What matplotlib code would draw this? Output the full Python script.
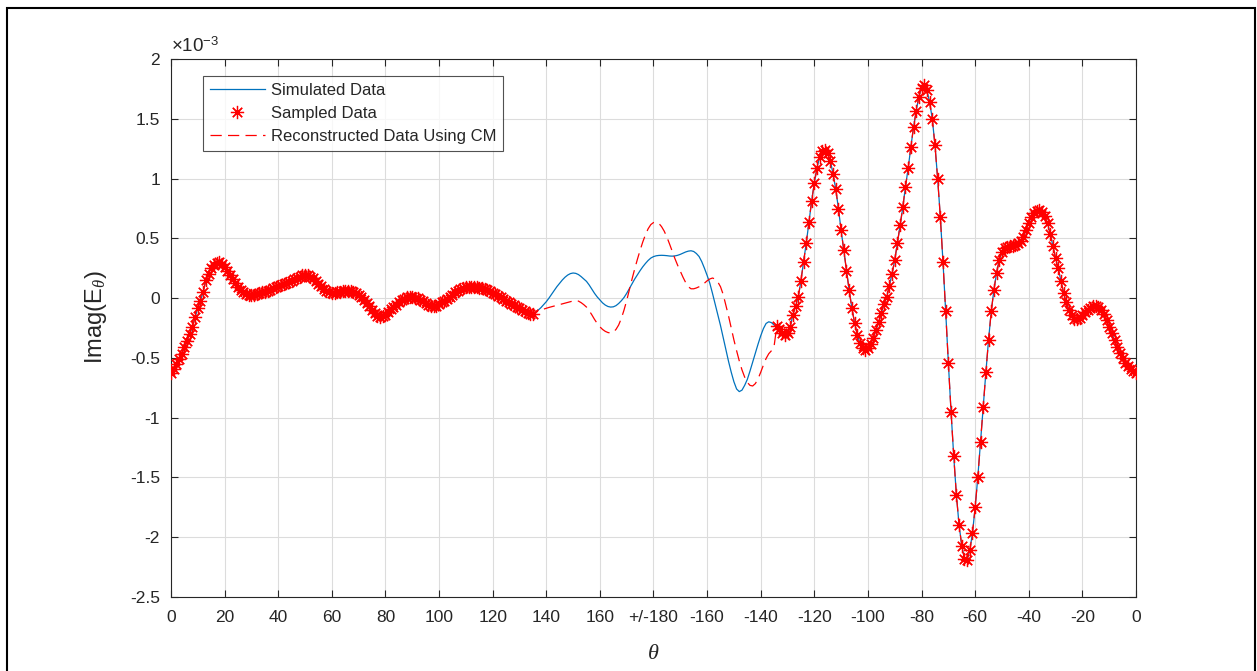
import numpy as np
import matplotlib
matplotlib.use("Agg")
import matplotlib.pyplot as plt
from matplotlib.patches import Rectangle

plt.rcParams['font.family'] = ['Liberation Sans', 'DejaVu Sans']
plt.rcParams['mathtext.fontset'] = 'custom'
plt.rcParams['mathtext.rm'] = 'Liberation Sans'
plt.rcParams['mathtext.it'] = 'Liberation Serif:italic'

# Imag(E_theta) in units of 1e-3, one value per degree.
# Sampled arc 1: theta = 0 .. 135 deg
imag_left = [
    -0.630, -0.590, -0.550, -0.510, -0.470, -0.410, -0.355, -0.300, -0.240, -0.160,
    -0.085, -0.020, 0.050, 0.150, 0.205, 0.255, 0.280, 0.295, 0.298, 0.285,
    0.262, 0.230, 0.195, 0.160, 0.125, 0.095, 0.070, 0.050, 0.035, 0.028,
    0.025, 0.028, 0.035, 0.040, 0.048, 0.055, 0.063, 0.072, 0.082, 0.090,
    0.098, 0.106, 0.115, 0.125, 0.135, 0.145, 0.157, 0.168, 0.180, 0.190,
    0.195, 0.190, 0.178, 0.165, 0.145, 0.120, 0.098, 0.078, 0.060, 0.048,
    0.042, 0.043, 0.048, 0.053, 0.056, 0.058, 0.060, 0.062, 0.055, 0.042,
    0.030, 0.010, -0.015, -0.045, -0.070, -0.100, -0.128, -0.148, -0.155, -0.152,
    -0.140, -0.120, -0.095, -0.075, -0.055, -0.035, -0.018, -0.005, 0.008, 0.013,
    0.012, 0.005, -0.003, -0.012, -0.025, -0.040, -0.055, -0.066, -0.070, -0.065,
    -0.052, -0.036, -0.020, -0.005, 0.012, 0.030, 0.048, 0.062, 0.073, 0.082,
    0.090, 0.095, 0.097, 0.096, 0.092, 0.087, 0.081, 0.075, 0.068, 0.058,
    0.045, 0.032, 0.020, 0.007, -0.007, -0.020, -0.033, -0.046, -0.060, -0.072,
    -0.085, -0.098, -0.110, -0.122, -0.132, -0.135,
]

# Unsampled arc: theta = 136 .. 225 deg (simulated field)
sim_gap = [
    -0.118, -0.100, -0.080, -0.055,
    -0.030, 0.000, 0.033, 0.065, 0.097, 0.125, 0.152, 0.175, 0.193, 0.205,
    0.210, 0.207, 0.197, 0.180, 0.160, 0.140, 0.110, 0.075, 0.040, 0.010,
    -0.015, -0.040, -0.058, -0.070, -0.075, -0.073, -0.063, -0.045, -0.022, 0.005,
    0.040, 0.080, 0.120, 0.160, 0.195, 0.230, 0.262, 0.290, 0.315, 0.335,
    0.347, 0.354, 0.357, 0.358, 0.357, 0.355, 0.352, 0.351, 0.353, 0.358,
    0.366, 0.376, 0.386, 0.393, 0.396, 0.390, 0.373, 0.348, 0.305, 0.250,
    0.190, 0.125, 0.040, -0.050, -0.140, -0.230, -0.330, -0.430, -0.530, -0.620,
    -0.700, -0.760, -0.782, -0.770, -0.730, -0.680, -0.610, -0.535, -0.460, -0.385,
    -0.315, -0.255, -0.212, -0.198, -0.205, -0.225,
]

# Unsampled arc: theta = 136 .. 225 deg (CM reconstruction)
rec_gap = [
    -0.120, -0.110, -0.100, -0.092,
    -0.085, -0.078, -0.072, -0.066, -0.060, -0.054, -0.048, -0.042, -0.036, -0.030,
    -0.024, -0.021, -0.025, -0.038, -0.055, -0.075, -0.105, -0.140, -0.178, -0.212,
    -0.240, -0.262, -0.278, -0.288, -0.292, -0.285, -0.262, -0.225, -0.170, -0.100,
    -0.020, 0.070, 0.160, 0.245, 0.325, 0.400, 0.470, 0.530, 0.580, 0.615,
    0.632, 0.636, 0.625, 0.598, 0.560, 0.510, 0.452, 0.390, 0.330, 0.275,
    0.225, 0.175, 0.130, 0.095, 0.078, 0.078, 0.085, 0.095, 0.108, 0.125,
    0.145, 0.160, 0.168, 0.160, 0.135, 0.095, 0.030, -0.060, -0.150, -0.250,
    -0.350, -0.440, -0.525, -0.600, -0.660, -0.705, -0.730, -0.735, -0.715, -0.675,
    -0.620, -0.560, -0.505, -0.465, -0.440, -0.400,
]

# Sampled arc 2: theta = 226 .. 360 deg
imag_right = [
    -0.235, -0.262, -0.290, -0.305,
    -0.295, -0.240, -0.140, -0.065, 0.008, 0.146, 0.304, 0.464, 0.635, 0.815,
    0.961, 1.091, 1.180, 1.228, 1.238, 1.210, 1.146, 1.036, 0.912, 0.746,
    0.566, 0.400, 0.229, 0.064, -0.083, -0.205, -0.305, -0.375, -0.415, -0.432,
    -0.420, -0.385, -0.330, -0.270, -0.200, -0.125, -0.050, 0.010, 0.105, 0.205,
    0.318, 0.461, 0.608, 0.760, 0.931, 1.086, 1.262, 1.428, 1.566, 1.685,
    1.760, 1.785, 1.740, 1.640, 1.500, 1.280, 1.000, 0.680, 0.300, -0.111,
    -0.542, -0.950, -1.320, -1.647, -1.900, -2.070, -2.180, -2.194, -2.110, -1.964,
    -1.750, -1.494, -1.203, -0.908, -0.619, -0.347, -0.111, 0.069, 0.214, 0.319,
    0.385, 0.415, 0.428, 0.435, 0.440, 0.448, 0.460, 0.480, 0.515, 0.570,
    0.630, 0.680, 0.712, 0.728, 0.733, 0.718, 0.685, 0.625, 0.540, 0.435,
    0.335, 0.250, 0.140, 0.045, -0.035, -0.100, -0.145, -0.172, -0.178, -0.163,
    -0.140, -0.115, -0.097, -0.080, -0.068, -0.065, -0.075, -0.097, -0.135, -0.185,
    -0.240, -0.295, -0.350, -0.410, -0.460, -0.505, -0.540, -0.565, -0.590, -0.612,
    -0.630,
]

theta_left = np.arange(0, 136)
theta_gap = np.arange(136, 226)
theta_right = np.arange(226, 361)

x_ticks = np.arange(0, 361, 20)
x_tick_labels = ['0', '20', '40', '60', '80', '100', '120', '140', '160', '+/-180',
                 '-160', '-140', '-120', '-100', '-80', '-60', '-40', '-20', '0']
y_ticks = np.arange(-2.5, 2.01, 0.5)
y_tick_labels = ['-2.5', '-2', '-1.5', '-1', '-0.5', '0', '0.5', '1', '1.5', '2']

theta_all = np.concatenate([theta_left, theta_gap, theta_right])
simulated = np.concatenate([imag_left, sim_gap, imag_right])
reconstructed = np.concatenate([imag_left, rec_gap, imag_right])
theta_sampled = np.concatenate([theta_left, theta_right])
sampled = np.concatenate([imag_left, imag_right])

ink = '#262626'
W, H = 1257, 671
fig = plt.figure(figsize=(W / 100, H / 100), dpi=100)
ax = fig.add_axes([171 / W, 1 - 597 / H, 965 / W, 538 / H])

ax.plot(theta_all, simulated, color='#0072BD', lw=0.9, label='Simulated Data', zorder=3)
ax.plot(theta_sampled, sampled, linestyle='none', marker=(8, 2, 0), markersize=9.5,
        markeredgewidth=0.9, color='#FF0000', label='Sampled Data', zorder=4)
ax.plot(theta_all, reconstructed, color='#FF0000', lw=0.9, linestyle=(0, (9, 5)),
        label='Reconstructed Data Using CM', zorder=5)

ax.set_xlim(0, 360)
ax.set_ylim(-2.5, 2.0)
ax.set_xticks(x_ticks)
ax.set_xticklabels(x_tick_labels)
ax.set_yticks(y_ticks)
ax.set_yticklabels(y_tick_labels)
ax.tick_params(direction='in', length=5, width=0.8, top=True, right=True,
               color=ink, labelcolor=ink, labelsize=12.5)
ax.tick_params(axis='x', pad=9)
ax.tick_params(axis='y', pad=8)
ax.grid(True, color='#dcdcdc', lw=0.8)
ax.set_axisbelow(True)
for sp in ax.spines.values():
    sp.set_color(ink)
    sp.set_linewidth(0.8)

ax.text(0.0, 1.006, r'$\times10^{-3}$', transform=ax.transAxes, ha='left', va='bottom',
        fontsize=13.5, color=ink)

ax.set_ylabel(r'Imag(E$_{\theta}$)', fontsize=17, color=ink)
ax.yaxis.set_label_coords(-0.064, 0.52)
ax.set_xlabel(r'$\theta$', fontsize=16, color=ink)
ax.xaxis.set_label_coords(0.5, -0.085)

leg = ax.legend(loc='upper left', bbox_to_anchor=(0.0332, 0.9684), borderaxespad=0,
                fontsize=12, frameon=True, fancybox=False, edgecolor=ink,
                handlelength=3.3, handletextpad=0.36, labelspacing=0.49,
                borderpad=0.4, numpoints=1)
leg.get_frame().set_linewidth(0.8)
for t in leg.get_texts():
    t.set_color(ink)

fig.patches.append(Rectangle((7 / W, -0.05), (1255 - 7) / W, 1.05 - 8 / H,
                             transform=fig.transFigure, fill=False, lw=1.5,
                             ec='black'))

fig.savefig('out.png', dpi=100)
